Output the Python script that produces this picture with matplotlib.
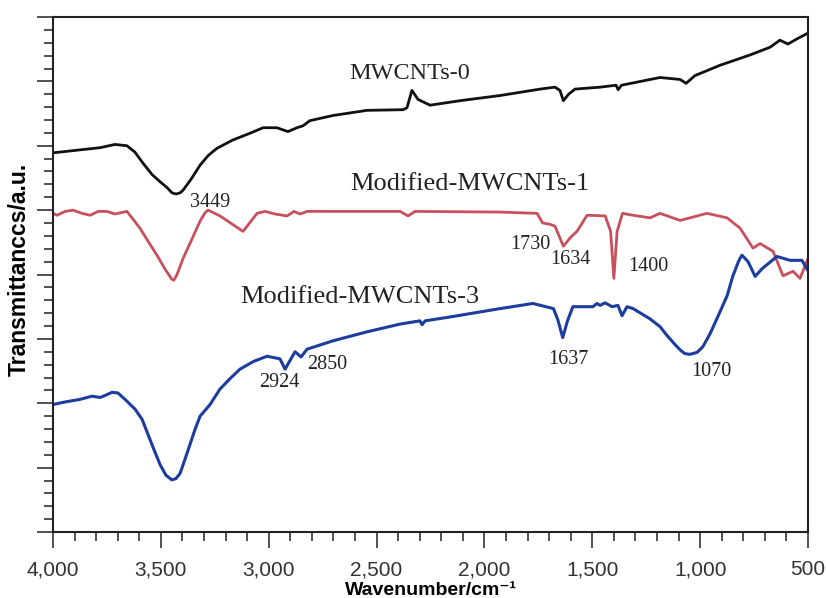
import matplotlib
matplotlib.use('Agg')
import matplotlib.pyplot as plt
import numpy as np
from matplotlib.ticker import MultipleLocator, FuncFormatter

# FTIR spectra, wavenumber (cm-1) vs. transmittance (arbitrary units, offset)
wn_mw0 = [4000, 3782, 3713, 3657, 3620, 3583, 3540, 3500, 3471, 3449, 3430,
          3410, 3397, 3360, 3318, 3280, 3240, 3166, 3090, 3026, 2962, 2911,
          2869, 2841, 2809, 2702, 2544, 2377, 2359, 2336, 2308, 2252, 2113,
          1928, 1742, 1673, 1650, 1634, 1610, 1580, 1464, 1390, 1380, 1365,
          1186, 1093, 1065, 1024, 908, 769, 676, 630, 593, 551, 500]
tr_mw0 = [5.89, 5.97, 6.02, 6.00, 5.90, 5.73, 5.55, 5.43, 5.35, 5.27, 5.25,
          5.27, 5.31, 5.48, 5.70, 5.85, 5.96, 6.09, 6.19, 6.28, 6.28, 6.22,
          6.28, 6.31, 6.39, 6.47, 6.55, 6.56, 6.59, 6.86, 6.72, 6.63, 6.70,
          6.78, 6.88, 6.91, 6.86, 6.70, 6.80, 6.88, 6.91, 6.94, 6.87, 6.94,
          7.06, 7.03, 6.97, 7.09, 7.25, 7.41, 7.53, 7.64, 7.58, 7.66, 7.75]

wn_mod1 = [4000, 3981, 3944, 3907, 3866, 3828, 3791, 3750, 3713, 3657, 3597,
           3560, 3518, 3480, 3450, 3440, 3425, 3397, 3360, 3318, 3295, 3281,
           3226, 3119, 3054, 3017, 2971, 2915, 2883, 2855, 2822, 2670, 2391,
           2354, 2322, 1928, 1756, 1730, 1696, 1673, 1634, 1600, 1571, 1524,
           1440, 1415, 1400, 1385, 1360, 1311, 1232, 1186, 1093, 968, 875,
           815, 755, 722, 662, 616, 569, 537, 500]
tr_mod1 = [4.95, 4.92, 4.98, 5.00, 4.95, 4.92, 4.98, 4.98, 4.94, 4.98, 4.72,
           4.52, 4.30, 4.08, 3.93, 3.91, 4.00, 4.25, 4.52, 4.83, 4.96, 5.00,
           4.91, 4.67, 4.95, 4.98, 4.94, 4.91, 4.98, 4.94, 4.98, 4.98, 4.98,
           4.91, 4.98, 4.97, 4.95, 4.80, 4.78, 4.75, 4.44, 4.58, 4.67, 4.92,
           4.91, 4.67, 3.94, 4.67, 4.95, 4.92, 4.88, 4.95, 4.84, 4.95, 4.88,
           4.72, 4.41, 4.48, 4.36, 3.98, 4.05, 3.94, 4.25]

wn_mod3 = [4000, 3944, 3875, 3819, 3782, 3759, 3726, 3699, 3666, 3620, 3587,
           3560, 3532, 3504, 3476, 3449, 3430, 3411, 3388, 3365, 3342, 3318,
           3272, 3226, 3180, 3133, 3070, 3008, 2948, 2924, 2878, 2850, 2822,
           2702, 2544, 2391, 2299, 2289, 2275, 2160, 1928, 1775, 1680, 1660,
           1637, 1615, 1590, 1497, 1478, 1464, 1441, 1408, 1381, 1362, 1339,
           1311, 1232, 1186, 1153, 1116, 1090, 1070, 1047, 1014, 987, 954,
           908, 875, 848, 820, 806, 778, 745, 713, 644, 583, 528, 500]
tr_mod3 = [1.98, 2.02, 2.06, 2.11, 2.09, 2.12, 2.17, 2.16, 2.06, 1.91, 1.75,
           1.52, 1.28, 1.05, 0.88, 0.81, 0.83, 0.91, 1.13, 1.36, 1.59, 1.80,
           1.98, 2.22, 2.38, 2.53, 2.65, 2.73, 2.69, 2.53, 2.80, 2.72, 2.84,
           2.97, 3.11, 3.23, 3.28, 3.22, 3.28, 3.34, 3.47, 3.55, 3.47, 3.30,
           3.02, 3.28, 3.50, 3.50, 3.55, 3.52, 3.56, 3.50, 3.52, 3.36, 3.50,
           3.47, 3.31, 3.19, 3.05, 2.91, 2.82, 2.77, 2.76, 2.79, 2.88, 3.08,
           3.42, 3.67, 3.98, 4.22, 4.30, 4.20, 3.97, 4.09, 4.28, 4.22, 4.22,
           4.06]

# sample names: (text, wavenumber, y, size)
names = [('MWCNTs-0', 2345, 7.03, 17.5),
         ('Modified-MWCNTs-1', 2067, 5.31, 19),
         ('Modified-MWCNTs-3', 2577, 3.55, 19)]
# band positions: (text, wavenumber, y)
bands = [('3449', 3272, 5.05), ('1730', 1789, 4.39), ('1634', 1603, 4.17),
         ('1400', 1242, 4.05), ('2924', 2952, 2.25), ('2850', 2730, 2.53),
         ('1637', 1612, 2.61), ('1070', 950, 2.42)]

fig = plt.figure(figsize=(8.26, 5.98), dpi=100)
ax = fig.add_axes([53/826, 1-532/598, 755/826, 515/598])

ax.plot(wn_mw0, tr_mw0, color='#111111', lw=2.0, solid_joinstyle='round')
ax.plot(wn_mod1, tr_mod1, color='#c8505c', lw=2.0, solid_joinstyle='round')
ax.plot(wn_mod3, tr_mod3, color='#1c3c9e', lw=2.2, solid_joinstyle='round')

serif = ['Liberation Serif', 'DejaVu Serif']
for txt, x, y, fs in names:
    ax.text(x, y, txt, ha='center', va='baseline', fontsize=fs,
            family=serif, color='#222222')
for txt, x, y in bands:
    ax.text(x, y, txt, ha='center', va='baseline', fontsize=14.5,
            family=serif, color='#222222')

ax.set_xlim(4000, 500)
ax.set_ylim(0, 8)
ax.xaxis.set_major_locator(MultipleLocator(500))
ax.xaxis.set_minor_locator(MultipleLocator(100))
ax.xaxis.set_major_formatter(FuncFormatter(lambda v, p: f'{int(v):,}'))
ax.yaxis.set_major_locator(MultipleLocator(1))
ax.yaxis.set_minor_locator(MultipleLocator(0.2))
ax.set_yticklabels([])

ax.tick_params(which='major', length=11.5, width=1.1, color='#222222', pad=9)
ax.tick_params(which='minor', length=6.5, width=1.1, color='#222222')
ax.tick_params(axis='x', labelsize=15, labelcolor='#333333')
for lab in ax.get_xticklabels():
    lab.set_family(['Liberation Sans', 'DejaVu Sans'])
for sp in ax.spines.values():
    sp.set_linewidth(1.5)
    sp.set_color('#222222')

sans = ['Liberation Sans', 'DejaVu Sans']
ax.set_xlabel('Wavenumber/cm\u207b\u00b9', fontsize=14, fontweight='bold',
              family=sans, labelpad=2)
ax.set_ylabel('Transmittanccs/a.u.', fontsize=16.5, fontweight='bold',
              family=sans)
ax.yaxis.set_label_coords(-0.029, 0.51)

fig.savefig('out.png', dpi=100)
